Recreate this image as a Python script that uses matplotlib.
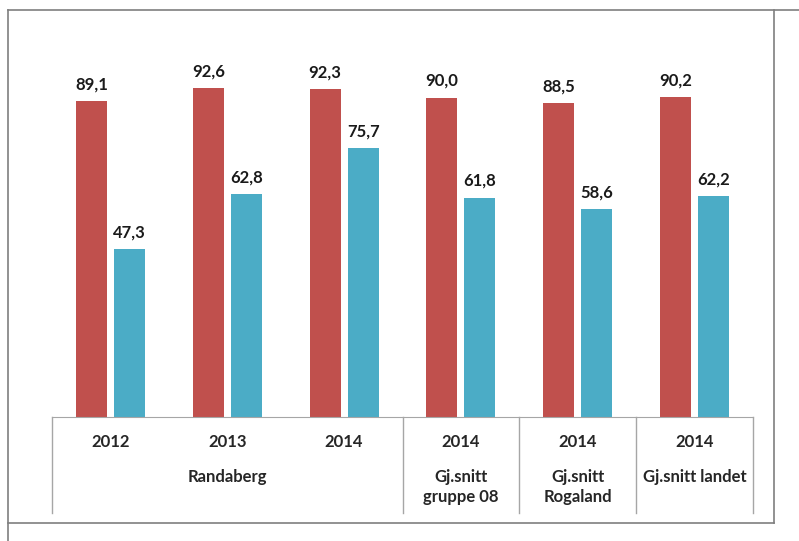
import matplotlib
matplotlib.use("Agg")
import matplotlib.pyplot as plt
from matplotlib.lines import Line2D
import numpy as np

# values
years = ["2012", "2013", "2014", "2014", "2014", "2014"]
red_vals = [89.1, 92.6, 92.3, 90.0, 88.5, 90.2]
blue_vals = [47.3, 62.8, 75.7, 61.8, 58.6, 62.2]
groups = ["Randaberg", "Gj.snitt\ngruppe 08", "Gj.snitt\nRogaland", "Gj.snitt landet"]
group_spans = [(0, 3), (3, 4), (4, 5), (5, 6)]

RED = "#C0504D"
BLUE = "#4BACC6"
W, H = 799, 541

plt.rcParams['font.family'] = ['Lato', 'DejaVu Sans']

fig = plt.figure(figsize=(W / 100, H / 100), dpi=100)
ax = fig.add_axes([52 / W, 1 - 417 / H, (753 - 52) / W, (417 - 62) / H])

x = np.arange(len(years)) + 0.5
off = 0.163
bw = 0.265
ax.bar(x - off, red_vals, bw, color=RED)
ax.bar(x + off, blue_vals, bw, color=BLUE)

def fmt(v):
    return "{:.1f}".format(v).replace(".", ",")

for xi, v in zip(x - off, red_vals):
    ax.annotate(fmt(v), (xi, v), xytext=(0, 12), textcoords="offset points",
                ha="center", va="center", fontsize=12, fontweight="bold", color="#1a1a1a")
for xi, v in zip(x + off, blue_vals):
    ax.annotate(fmt(v), (xi, v), xytext=(0, 12), textcoords="offset points",
                ha="center", va="center", fontsize=12, fontweight="bold", color="#1a1a1a")

ax.set_xlim(0, len(years))
ax.set_ylim(0, 100)
for s in ["top", "right", "left"]:
    ax.spines[s].set_visible(False)
ax.spines["bottom"].set_color("#A6A6A6")
ax.set_xticks([])
ax.set_yticks([])

# category table below the axis
tr = ax.get_xaxis_transform()
axh = 417 - 62
line_bot = -(513 - 417) / axh
for b in [0, 3, 4, 5, 6]:
    ax.plot([b, b], [0, line_bot], color="#A6A6A6", lw=1, transform=tr, clip_on=False)

for xi, yr in zip(x, years):
    ax.text(xi, -(442 - 417) / axh, yr, transform=tr, ha="center", va="center",
            fontsize=12, fontweight="bold", color="#262626")

for name, (a, b) in zip(groups, group_spans):
    ax.text((a + b) / 2, -(469 - 417) / axh, name, transform=tr, ha="center", va="top",
            fontsize=12, fontweight="bold", color="#262626", linespacing=1.3)

# outer chart-area border
def fline(x0, y0, x1, y1):
    fig.add_artist(Line2D([x0 / W, x1 / W], [1 - y0 / H, 1 - y1 / H],
                          color="#7F7F7F", lw=1.2))

fline(8, 10, W, 10)
fline(8, 10, 8, H)
fline(774, 10, 774, 523)
fline(8, 523, 774, 523)

fig.savefig("out.png", dpi=100)
